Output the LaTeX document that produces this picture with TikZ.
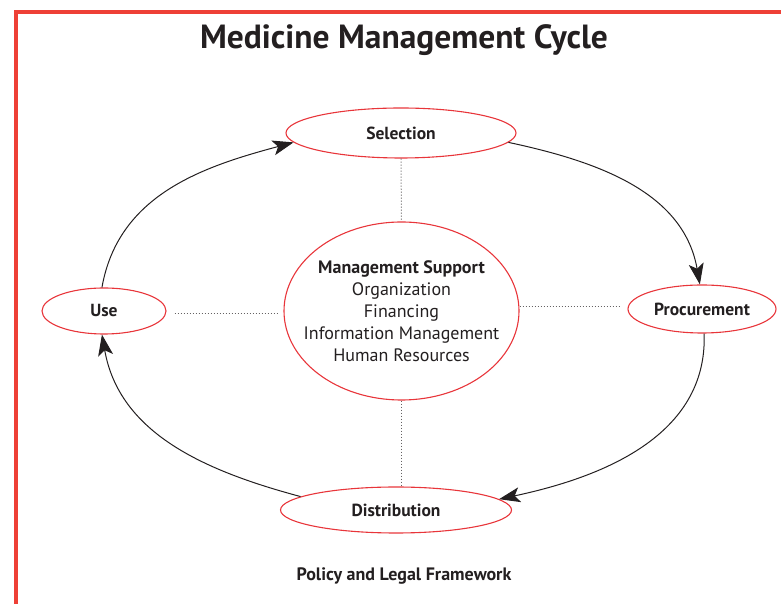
\documentclass[tikz,border=0pt]{standalone}
\usepackage{fontspec}
\setmainfont{PT Sans}
\usepackage{xcolor}
\usetikzlibrary{arrows.meta,shapes.geometric}
\definecolor{framered}{HTML}{EE4036}
\definecolor{ringred}{HTML}{E8353A}
\definecolor{inkgrey}{HTML}{231F20}
\tikzset{
	phase/.style={
			ellipse, draw=ringred, line width=1.1pt, inner sep=0pt,
			text=inkgrey, font=\fontsize{17.5}{20}\selectfont\bfseries
		},
	cycle/.style={
			-{Stealth[length=21pt,width=15pt,inset=5pt]}, inkgrey, line width=1pt
		},
	link/.style={
			inkgrey!70, dotted, line width=1pt
		}
}

\begin{document}
\begin{tikzpicture}[x=1pt,y=1pt]
		\useasboundingbox (0,0) rectangle (781,604);
		\draw [framered, line width=4pt]	(16,0) -- (16,592) -- (781,592);
		\node [text=inkgrey, font=\fontsize{33.5}{38}\selectfont\bfseries] (title) at (404,564) {Medicine Management Cycle};
		\node [phase, minimum width=230pt, minimum height=50pt] (sel) at (401,471) {Selection};
		\node [phase, minimum width=148pt, minimum height=48pt] (proc) at (702,295) {Procurement};
		\node [phase, minimum width=124pt, minimum height=46pt] (use) at (104,293) {Use};
		\node [phase, minimum width=231pt, minimum height=46pt] (dist) at (396,94) {Distribution};
		\node [phase, minimum width=235pt, minimum height=178pt, inner xsep=-18pt, align=center, font=\fontsize{18}{22}\selectfont] (ms) at (401.5,293)
			{\textbf{Management Support}\\Organization\\Financing\\Information Management\\Human Resources};
		\node [text=inkgrey, font=\fontsize{18}{21}\selectfont\bfseries] (policy) at (404,28) {Policy and Legal Framework};
		\draw [link]	(sel.south) -- (ms.north);
		\draw [link]	(ms.south) -- (ms.south |- dist.north);
		\draw [link, shorten >=8pt]	(ms.east |- 0,297) -- (proc.west |- 0,297);
		\draw [link, shorten <=8pt, shorten >=4pt]	(use.east |- 0,290) -- (ms.west |- 0,290);
		\draw [cycle]	(sel.-5) to [out=-12, in=100] (proc.95);
		\draw [cycle]	(proc.-85) to [out=-88, in=12] (dist.6);
		\draw [cycle]	(dist.172) to [out=165, in=-80] (use.-95);
		\draw [cycle]	(use.95) to [out=80, in=195] (sel.185);
	\end{tikzpicture}
\end{document}
